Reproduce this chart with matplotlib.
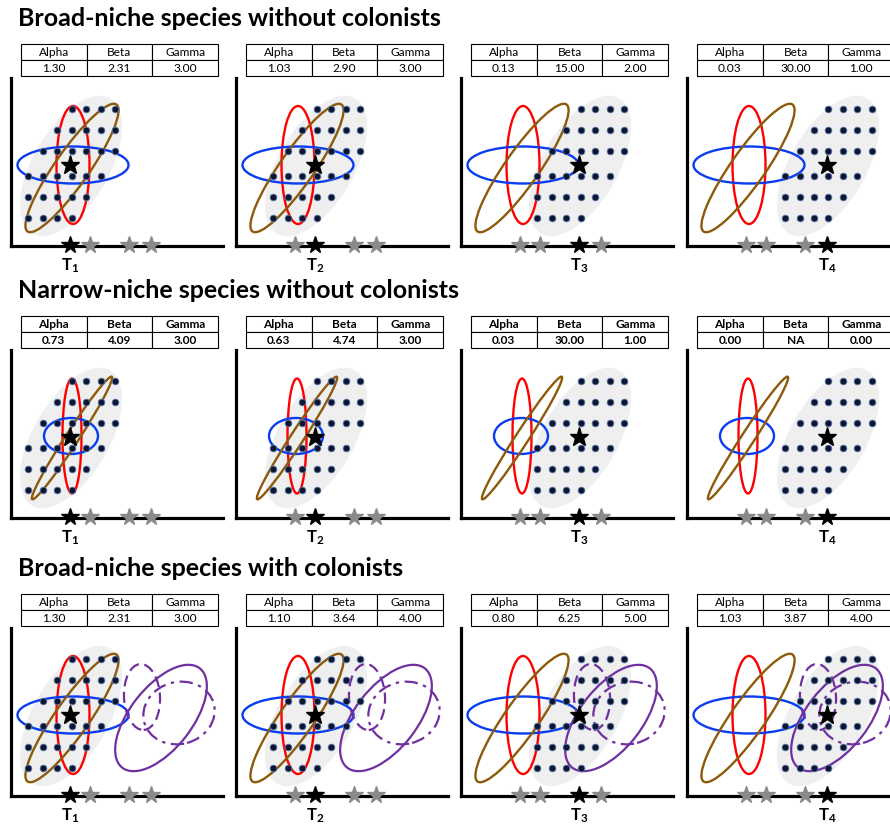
import numpy as np
import matplotlib
matplotlib.use("Agg")
import matplotlib.pyplot as plt
from matplotlib.patches import Ellipse

plt.rcParams['font.family'] = ['Lato', 'DejaVu Sans']
plt.rcParams['mathtext.fontset'] = 'custom'
plt.rcParams['mathtext.rm'] = 'Lato'
plt.rcParams['mathtext.bf'] = 'Lato:bold'

# --- data -------------------------------------------------------------
titles = ["Broad-niche species without colonists",
          "Narrow-niche species without colonists",
          "Broad-niche species with colonists"]
col_labels = ["Alpha", "Beta", "Gamma"]
alpha_vals = [["1.30", "1.03", "0.13", "0.03"],
              ["0.73", "0.63", "0.03", "0.00"],
              ["1.30", "1.10", "0.80", "1.03"]]
beta_vals = [["2.31", "2.90", "15.00", "30.00"],
             ["4.09", "4.74", "30.00", "NA"],
             ["2.31", "3.64", "6.25", "3.87"]]
gamma_vals = [["3.00", "3.00", "2.00", "1.00"],
              ["3.00", "3.00", "1.00", "0.00"],
              ["3.00", "4.00", "5.00", "4.00"]]
narrow_niche = [False, True, False]
with_colonists = [False, False, True]

# community centroid along the trait axis at T1..T4 (panel units)
time_x = [59, 79, 118, 140]
centroid_y = 81

# community members: grid rows (first column, count, row offset from centroid)
row_first = [0, -1, -2, -3, -3, -3]
row_count = [4, 5, 6, 6, 5, 4]
row_dy = [56, 35, 14, -11, -32, -53]

# --- layout (pixels) ----------------------------------------------------
FW, FH = 890, 824
col_left = [11, 236, 461, 687]
row_bottom = [246, 518, 796]
title_y = [18, 291, 569]
PW, PH = 212, 168


def rect(x, ytop, w, h):
    return [x / FW, 1 - (ytop + h) / FH, w / FW, h / FH]


fig = plt.figure(figsize=(FW / 100, FH / 100), dpi=100)

RED, BLUE, BROWN, PURPLE = "#FF0000", "#0A3CF0", "#8C5A0A", "#7030A0"

for i in range(3):
    fig.text(18 / FW, 1 - title_y[i] / FH, titles[i], fontsize=18,
             fontweight="bold", ha="left", va="center")
    for j in range(4):
        x0 = col_left[j]
        yb = row_bottom[i]

        # table of diversity values
        tax = fig.add_axes(rect(x0 + 10, yb - 202, 197, 32))
        tax.axis("off")
        tab = tax.table(cellText=[[alpha_vals[i][j], beta_vals[i][j], gamma_vals[i][j]]],
                        colLabels=col_labels, cellLoc="center", bbox=[0, 0, 1, 1])
        tab.auto_set_font_size(False)
        tab.set_fontsize(8.6)
        for cell in tab.get_celld().values():
            cell.set_linewidth(0.8)
            cell.set_edgecolor("black")
            if narrow_niche[i]:
                cell.get_text().set_fontweight("bold")

        ax = fig.add_axes(rect(x0, yb - PH, PW, PH))
        ax.set_xlim(0, PW)
        ax.set_ylim(0, PH)
        ax.patch.set_alpha(0)
        for s in ["top", "right"]:
            ax.spines[s].set_visible(False)
        for s in ["left", "bottom"]:
            ax.spines[s].set_linewidth(2.3)
        ax.set_xticks([])
        ax.set_yticks([])

        cx = time_x[j]
        # community cloud
        ax.add_patch(Ellipse((cx + 1, centroid_y - 1), 156, 76, angle=60,
                             fc="#EFEFEF", ec="none", zorder=1))
        xs, ys = [], []
        for f, n, dy in zip(row_first, row_count, row_dy):
            for k in range(f, f + n):
                xs.append(cx + 1.5 + 14.5 * k)
                ys.append(centroid_y + dy)
        ax.plot(xs, ys, "o", ms=4.8, color="#0D1530", mec="#5577AA", mew=0.6,
                ls="none", zorder=4)

        # species niches
        if narrow_niche[i]:
            ax.add_patch(Ellipse((61, 82), 19, 115, fill=False, ec=RED, lw=1.7, zorder=3))
            ax.add_patch(Ellipse((60, 82), 54, 36, fill=False, ec=BLUE, lw=1.7, zorder=3))
            ax.add_patch(Ellipse((61, 80), 146, 13, angle=57, fill=False, ec=BROWN, lw=1.7, zorder=3))
        else:
            ax.add_patch(Ellipse((62, 81), 33, 118, fill=False, ec=RED, lw=1.7, zorder=3))
            ax.add_patch(Ellipse((62, 81), 111, 37, fill=False, ec=BLUE, lw=1.7, zorder=3))
            ax.add_patch(Ellipse((61, 78), 155, 34, angle=55, fill=False, ec=BROWN, lw=1.7, zorder=3))

        # colonists
        if with_colonists[i]:
            ax.add_patch(Ellipse((150, 78), 126, 62, angle=52, fill=False, ec=PURPLE,
                                 lw=1.6, zorder=3, clip_on=False))
            ax.add_patch(Ellipse((131, 99), 36, 66, angle=3, fill=False, ec=PURPLE,
                                 lw=1.6, ls=(0, (5, 2.5)), zorder=3, clip_on=False))
            ax.add_patch(Ellipse((168, 83), 72, 62, angle=15, fill=False, ec=PURPLE,
                                 lw=1.6, ls=(0, (6, 2.5, 1.5, 2.5)), zorder=3, clip_on=False))

        # community mean
        ax.plot(cx, centroid_y, marker="*", ms=14, color="black", zorder=6)

        # time axis stars
        for k in range(4):
            ax.plot(time_x[k], 1, marker="*", ms=13, color="black" if k == j else "#8A8A8A",
                    clip_on=False, zorder=7)
        ax.text(cx, -10, r"$\mathbf{T_{%d}}$" % (j + 1), ha="center", va="top",
                fontsize=12)

fig.savefig("out.png", dpi=100)
